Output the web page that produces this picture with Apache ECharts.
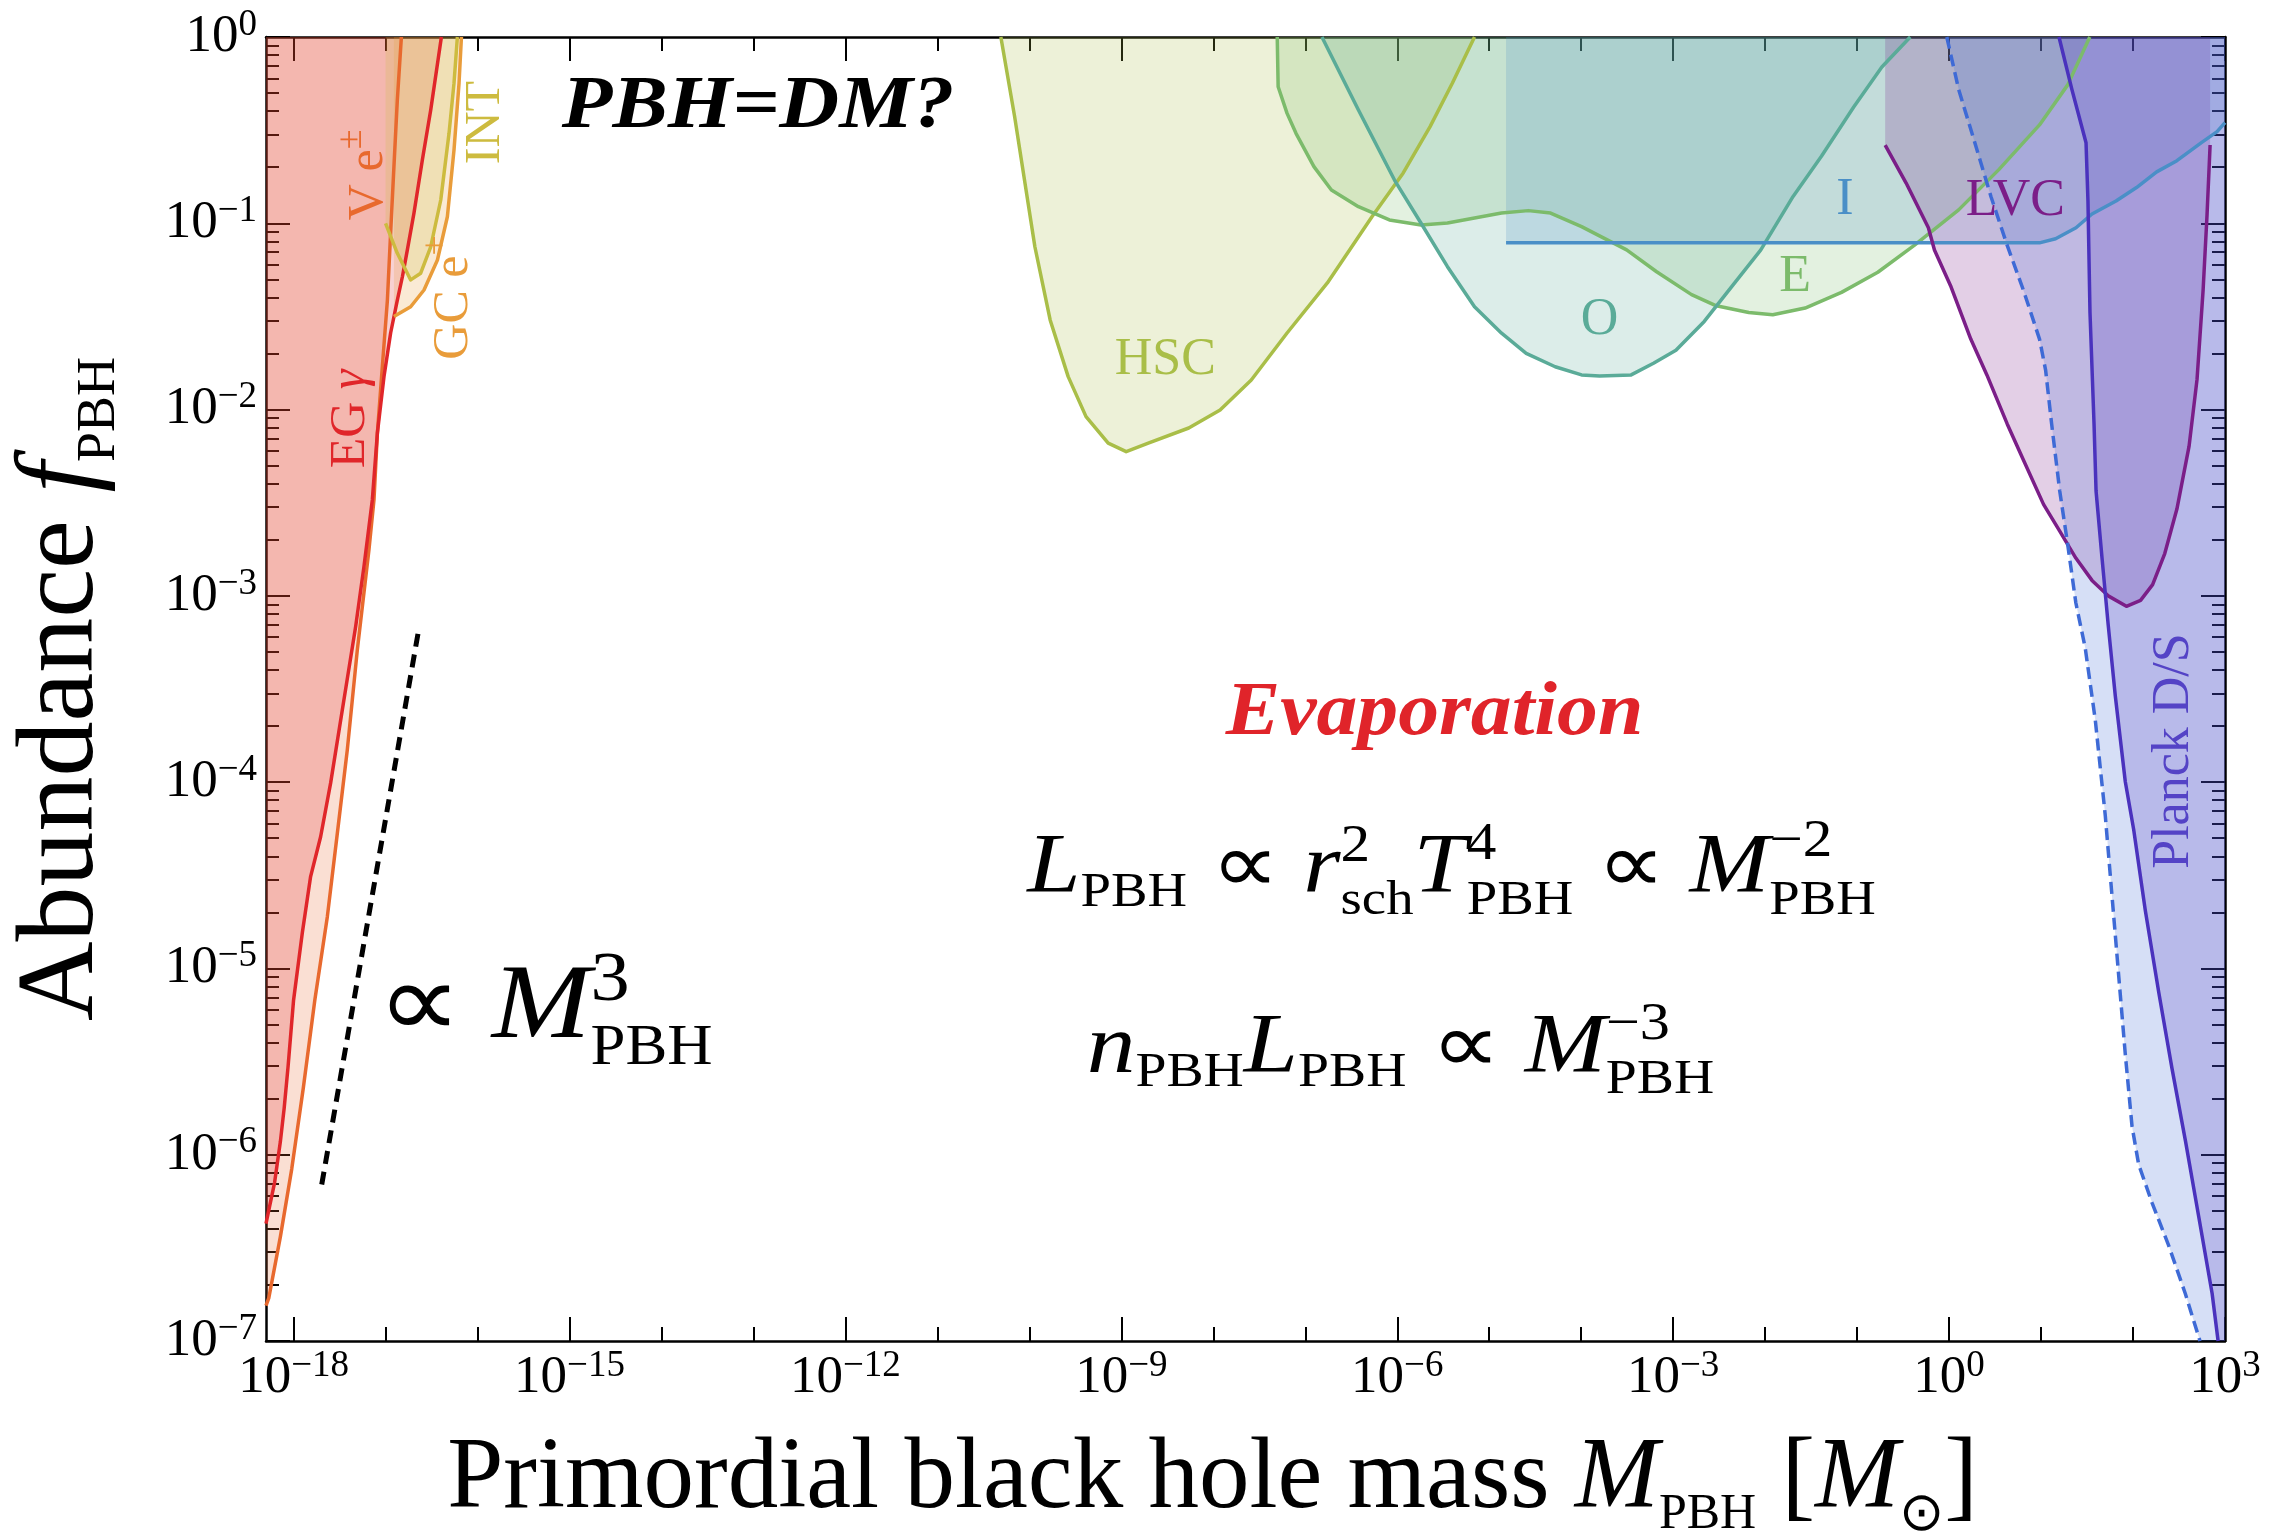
<!DOCTYPE html>
<html>
<head>
<meta charset="utf-8">
<title>PBH abundance constraints</title>
<script src="https://cdn.jsdelivr.net/npm/echarts@6/dist/echarts.min.js"></script>
<style>
  html, body { margin: 0; padding: 0; background: #fff; }
  #chart { width: 2283px; height: 1531px; }
</style>
</head>
<body>
<div id="chart"></div>
<script>
// All constraint boundaries are given as [log10(M_PBH / M_sun), log10(f_PBH)].

// Tick labels (powers of ten)
const xMajorExp = [-18, -15, -12, -9, -6, -3, 0, 3];
const xMajorLabels = ['−18', '−15', '−12', '−9', '−6', '−3', '0', '3'];
const xMinorExp = [-18, -17, -16, -15, -14, -13, -12, -11, -10, -9, -8, -7, -6, -5, -4, -3, -2, -1, 0, 1, 2, 3];
const yMajorExp = [0, -1, -2, -3, -4, -5, -6, -7];
const yMajorLabels = ['0', '−1', '−2', '−3', '−4', '−5', '−6', '−7'];
const yMinorMantissa = [2, 3, 4, 5, 6, 7, 8, 9];

// Evaporation: extragalactic gamma rays
const egGammaLimit = [
  [-16.393, 0], [-16.509, -0.392], [-16.6, -0.66], [-16.691, -0.945], [-16.763, -1.143],
  [-16.817, -1.287], [-16.872, -1.412], [-16.945, -1.589], [-17.017, -1.823], [-17.089, -2.126],
  [-17.144, -2.485], [-17.235, -2.843], [-17.325, -3.165], [-17.453, -3.559], [-17.597, -4.004],
  [-17.706, -4.293], [-17.815, -4.507], [-17.905, -4.809], [-18.0, -5.169], [-18.061, -5.533],
  [-18.102, -5.749], [-18.144, -5.931], [-18.207, -6.151], [-18.269, -6.296], [-18.3, -6.37]
];
// Evaporation: Voyager e±
const voyagerLimit = [
  [-16.828, 0], [-16.872, -0.338], [-16.909, -0.696], [-16.945, -1.052], [-16.98, -1.412],
  [-17.035, -1.77], [-17.089, -2.126], [-17.126, -2.485], [-17.181, -2.754], [-17.307, -3.29],
  [-17.416, -3.827], [-17.524, -4.273], [-17.633, -4.722], [-17.769, -5.169], [-17.894, -5.641],
  [-18.02, -6.076], [-18.144, -6.441], [-18.269, -6.768], [-18.3, -6.81]
];
// Evaporation: Galactic centre e+ (511 keV)
const gcPositronLimit = [
  [-16.909, -1.501], [-16.727, -1.448], [-16.582, -1.358], [-16.436, -1.197],
  [-16.328, -0.965], [-16.256, -0.607], [-16.201, -0.247], [-16.175, 0]
];
// Evaporation: INTEGRAL
const integralLimit = [
  [-17.0, -1.0], [-16.872, -1.161], [-16.727, -1.304], [-16.618, -1.268], [-16.509, -1.126],
  [-16.4, -0.875], [-16.31, -0.517], [-16.256, -0.249], [-16.219, 0]
];
// Microlensing: Subaru HSC
const hscLimit = [
  [-10.31, 0], [-10.16, -0.428], [-9.94, -1.126], [-9.774, -1.519], [-9.578, -1.823],
  [-9.384, -2.038], [-9.143, -2.18], [-8.947, -2.226], [-8.707, -2.18], [-8.267, -2.099],
  [-7.926, -2.002], [-7.587, -1.841], [-7.198, -1.589], [-6.76, -1.32], [-6.275, -0.965],
  [-5.935, -0.73], [-5.643, -0.481], [-5.40, -0.247], [-5.16, 0]
];
// Microlensing: EROS
const erosLimit = [
  [-7.305, 0], [-7.295, -0.267], [-7.198, -0.41], [-7.101, -0.517], [-6.906, -0.696],
  [-6.716, -0.821], [-6.422, -0.911], [-6.085, -0.982], [-5.741, -1.009], [-5.454, -0.998],
  [-5.16, -0.972], [-4.866, -0.945], [-4.575, -0.932], [-4.333, -0.945], [-3.996, -1.018],
  [-3.506, -1.143], [-3.18, -1.26], [-2.80, -1.383], [-2.531, -1.443], [-2.178, -1.479],
  [-1.917, -1.491], [-1.565, -1.455], [-1.17, -1.371], [-0.775, -1.263], [-0.379, -1.119],
  [0.104, -0.928], [0.541, -0.712], [0.983, -0.472], [1.29, -0.257], [1.53, 0]
];
// Microlensing: OGLE
const ogleLimit = [
  [-6.819, 0], [-6.422, -0.392], [-6.03, -0.768], [-5.741, -1.0], [-5.454, -1.233],
  [-5.16, -1.448], [-4.866, -1.59], [-4.598, -1.698], [-4.283, -1.77], [-3.996, -1.814],
  [-3.8, -1.82], [-3.457, -1.814], [-3.214, -1.751], [-2.97, -1.682], [-2.662, -1.527],
  [-2.355, -1.335], [-2.047, -1.143], [-1.696, -0.856], [-1.388, -0.64], [-1.037, -0.376],
  [-0.731, -0.161], [-0.422, 0]
];
// Icarus caustic crossing
const icarusLimit = [
  [-4.817, -1.105], [0.983, -1.105], [1.158, -1.083], [1.38, -1.024], [1.554, -0.95],
  [1.815, -0.88], [2.038, -0.808], [2.257, -0.724], [2.477, -0.664], [2.74, -0.568],
  [2.914, -0.508], [3.0, -0.46]
];
// LIGO/Virgo merger rates
const lvcLimit = [
  [-0.695, -0.58], [-0.467, -0.784], [-0.225, -1.024], [-0.159, -1.143], [0.016, -1.335],
  [0.237, -1.623], [0.411, -1.814], [0.632, -2.077], [0.807, -2.269], [1.027, -2.509],
  [1.203, -2.653], [1.378, -2.797], [1.554, -2.917], [1.73, -3.0], [1.928, -3.056],
  [2.082, -3.024], [2.213, -2.94], [2.345, -2.773], [2.477, -2.534], [2.609, -2.198],
  [2.696, -1.838], [2.762, -1.359], [2.805, -0.952], [2.838, -0.58]
];
// Planck accretion, spherical (dashed) and disk (solid)
const planckSphericalLimit = [
  [-0.025, 0], [0.104, -0.281], [0.28, -0.568], [0.455, -0.856], [0.632, -1.119],
  [0.808, -1.359], [0.984, -1.623], [1.05, -1.79], [1.115, -2.077], [1.203, -2.437],
  [1.29, -2.725], [1.378, -3.037], [1.48, -3.279], [1.589, -3.664], [1.698, -4.178],
  [1.807, -4.82], [1.916, -5.461], [1.989, -5.847], [2.061, -6.052], [2.206, -6.257],
  [2.388, -6.488], [2.568, -6.745], [2.728, -7]
];
const planckDiskLimit = [
  [1.195, 0], [1.335, -0.281], [1.489, -0.568], [1.51, -0.88], [1.532, -1.479],
  [1.576, -2.077], [1.598, -2.437], [1.663, -2.797], [1.73, -3.156], [1.807, -3.536],
  [1.916, -3.998], [2.007, -4.254], [2.134, -4.691], [2.279, -5.127], [2.424, -5.538],
  [2.569, -5.923], [2.715, -6.334], [2.86, -6.745], [2.925, -7]
];
// M^3 scaling guide
const cubicGuide = [[-17.694, -6.16], [-16.636, -3.171]];

// ---------------------------------------------------------------------------
const X_MIN = -18.3, X_MAX = 3, Y_MIN = -7, Y_MAX = 0;
const FONT = '"Liberation Serif", "Times New Roman", serif';
const FILL_ALPHA = 0.21;

const COL = {
  eg: '#e0262a', ve: '#e8692e', gc: '#e99c3a', int: '#cdbb3f',
  hsc: '#a9be48', eros: '#7cbb6b', ogle: '#5aab98', icarus: '#4a8fc7',
  lvc: '#7b1e88', planckS: '#3e6ad6', planckD: '#4a32bd'
};

function rgba(hex, a) {
  const n = parseInt(hex.slice(1), 16);
  return `rgba(${(n >> 16) & 255},${(n >> 8) & 255},${n & 255},${a})`;
}
const last = arr => arr[arr.length - 1];

// Filled regions: each boundary closed against the frame of the plot
const regions = [
  { color: COL.ve, poly: [[X_MIN, Y_MAX], ...voyagerLimit, [X_MIN, last(voyagerLimit)[1]]] },
  { color: COL.eg, poly: [[X_MIN, Y_MAX], ...egGammaLimit, [X_MIN, last(egGammaLimit)[1]]] },
  { color: COL.gc, poly: [...gcPositronLimit, [gcPositronLimit[0][0], Y_MAX]] },
  { color: COL.int, poly: [...integralLimit, [integralLimit[0][0], Y_MAX]] },
  { color: COL.hsc, poly: hscLimit },
  { color: COL.eros, poly: erosLimit },
  { color: COL.ogle, poly: ogleLimit },
  { color: COL.icarus, poly: [[icarusLimit[0][0], Y_MAX], ...icarusLimit, [X_MAX, Y_MAX]] },
  { color: COL.lvc, poly: [[lvcLimit[0][0], Y_MAX], ...lvcLimit, [last(lvcLimit)[0], Y_MAX]] },
  { color: COL.planckS, poly: [...planckSphericalLimit, [X_MAX, Y_MIN], [X_MAX, Y_MAX]] },
  { color: COL.planckD, poly: [...planckDiskLimit, [X_MAX, Y_MIN], [X_MAX, Y_MAX]] }
];

const curves = [
  { data: voyagerLimit, color: COL.ve },
  { data: egGammaLimit, color: COL.eg },
  { data: gcPositronLimit, color: COL.gc },
  { data: integralLimit, color: COL.int },
  { data: hscLimit, color: COL.hsc },
  { data: erosLimit, color: COL.eros },
  { data: ogleLimit, color: COL.ogle },
  { data: icarusLimit, color: COL.icarus },
  { data: lvcLimit, color: COL.lvc },
  { data: planckSphericalLimit, color: COL.planckS, dash: [12, 6] },
  { data: planckDiskLimit, color: COL.planckD },
  { data: cubicGuide, color: '#000', dash: [13, 8], width: 5 }
];

// --- small math typesetter for annotations --------------------------------
const measureCtx = document.createElement('canvas').getContext('2d');
function fnt(size, italic, bold) {
  return (italic ? 'italic ' : '') + (bold ? 'bold ' : '') + size + 'px ' + FONT;
}
function textWidth(t, size, italic, bold) {
  measureCtx.font = fnt(size, italic, bold);
  return measureCtx.measureText(t).width;
}
function typeset(atoms) {
  const parts = [];
  let x = 0;
  atoms.forEach(a => {
    if (a.t) {
      parts.push({ text: a.t, x, dy: 0, size: a.s, i: a.i, b: a.b });
      x += textWidth(a.t, a.s, a.i, a.b);
    }
    let w = 0;
    if (a.sup) {
      parts.push({ text: a.sup, x, dy: a.supDy, size: a.supS });
      w = Math.max(w, textWidth(a.sup, a.supS));
    }
    if (a.sub) {
      parts.push({ text: a.sub, x, dy: a.subDy, size: a.subS });
      w = Math.max(w, textWidth(a.sub, a.subS));
    }
    x += w;
  });
  return { parts, width: x };
}
// distance of the canvas "middle" baseline above the alphabetic baseline
const MID = 0.3375;

const BIG = 84, SUBS = 48, SUPS = 52;
const luminosity = [
  { t: 'L', s: BIG, i: 1, sub: 'PBH', subS: SUBS, subDy: 12 },
  { t: ' ∝ ', s: BIG },
  { t: 'r', s: BIG, i: 1, sup: '2', supS: SUPS, supDy: -33, sub: 'sch', subS: SUBS, subDy: 20 },
  { t: 'T', s: BIG, i: 1, sup: '4', supS: SUPS, supDy: -35, sub: 'PBH', subS: SUBS, subDy: 20 },
  { t: ' ∝ ', s: BIG },
  { t: 'M', s: BIG, i: 1, sup: '−2', supS: SUPS, supDy: -38, sub: 'PBH', subS: SUBS, subDy: 20 }
];
const emissivity = [
  { t: 'n', s: BIG, i: 1, sub: 'PBH', subS: SUBS, subDy: 12 },
  { t: 'L', s: BIG, i: 1, sub: 'PBH', subS: SUBS, subDy: 12 },
  { t: ' ∝ ', s: BIG },
  { t: 'M', s: BIG, i: 1, sup: '−3', supS: SUPS, supDy: -35, sub: 'PBH', subS: SUBS, subDy: 19 }
];
const cubic = [
  { t: '∝ ', s: 106 },
  { t: 'M', s: 106, i: 1, sup: '3', supS: 70, supDy: -40, sub: 'PBH', subS: 56, subDy: 23 }
];

// anchors: horizontal centre, alphabetic baseline (log10 M, log10 f); sx = horizontal stretch
const notes = [
  { at: [-12.95, -0.515], sx: 1.12, color: '#000', atoms: [{ t: 'PBH=DM?', s: 74, i: 1, b: 1 }] },
  { at: [-5.595, -3.773], sx: 1.075, color: '#e0242a', atoms: [{ t: 'Evaporation', s: 76, i: 1, b: 1 }] },
  { at: [-5.41, -4.622], sx: 1.14, color: '#000', atoms: luminosity },
  { at: [-5.965, -5.588], sx: 1.16, color: '#000', atoms: emissivity },
  { at: [-15.269, -5.411], sx: 1.12, color: '#000', atoms: cubic },
  { at: [-8.522, -1.83], color: COL.hsc, atoms: [{ t: 'HSC', s: 52 }] },
  { at: [-3.8, -1.616], color: COL.ogle, atoms: [{ t: 'O', s: 52 }] },
  { at: [-1.675, -1.383], color: COL.eros, atoms: [{ t: 'E', s: 52 }] },
  { at: [-1.134, -0.971], color: COL.icarus, atoms: [{ t: 'I', s: 52 }] },
  { at: [0.72, -0.977], color: COL.lvc, atoms: [{ t: 'LVC', s: 52 }] },
  { at: [2.642, -3.833], rot: 90, color: '#5443c6', atoms: [{ t: 'Planck D/S', s: 52 }] },
  { at: [-17.195, -2.05], rot: 90, color: COL.eg, atoms: [{ t: 'EG ', s: 50 }, { t: 'γ', s: 50, i: 1 }] },
  { at: [-17.0, -0.74], rot: 90, color: COL.ve, atoms: [{ t: 'V e', s: 50, sup: '±', supS: 36, supDy: -22 }] },
  { at: [-16.074, -1.398], rot: 90, color: COL.gc, atoms: [{ t: 'GC e', s: 50, sup: '+', supS: 36, supDy: -22 }] },
  { at: [-15.729, -0.459], rot: 90, color: COL.int, atoms: [{ t: 'INT', s: 50 }] }
];

// --- axes ------------------------------------------------------------------
const tickRich = {
  b: { fontFamily: FONT, fontSize: 53, lineHeight: 53, verticalAlign: 'middle', color: '#000' },
  s: { fontFamily: FONT, fontSize: 37, lineHeight: 37, verticalAlign: 'middle', padding: [0, 0, 24, 0], color: '#000' }
};
const frameLine = { show: true, onZero: false, lineStyle: { color: '#000', width: 2.5 } };
const tickStyle = { color: '#000', width: 2 };

function baseAxis(extra) {
  return Object.assign({
    type: 'value', scale: false, splitLine: { show: false },
    axisLine: { show: false, onZero: false }, axisLabel: { show: false },
    axisTick: { show: false }, nameMoveOverlap: false
  }, extra);
}
function xAxisPair(position, withLabels) {
  const major = baseAxis({
    position, min: X_MIN, max: X_MAX, axisLine: frameLine,
    axisTick: { show: true, inside: true, length: 24, customValues: xMajorExp, lineStyle: tickStyle }
  });
  if (withLabels) {
    major.axisLabel = {
      show: true, customValues: xMajorExp, margin: 11, hideOverlap: false,
      formatter: v => `{b|10}{s|${xMajorLabels[xMajorExp.indexOf(Math.round(v))]}}`,
      rich: tickRich
    };
    major.name = '{r|Primordial black hole mass }{i|M}{s|PBH}{r| [}{i|M}{o|⊙}{r|]}{g|}';
    major.nameLocation = 'middle';
    major.nameGap = 68;
    major.nameTextStyle = {
      fontFamily: FONT, fontSize: 101, color: '#000',
      rich: {
        r: { fontFamily: FONT, fontSize: 101, lineHeight: 142, verticalAlign: 'middle', color: '#000' },
        i: { fontFamily: FONT, fontSize: 101, lineHeight: 142, verticalAlign: 'middle', fontStyle: 'italic', color: '#000' },
        s: { fontFamily: FONT, fontSize: 50, lineHeight: 50, verticalAlign: 'middle', padding: [70, 0, 0, 0], color: '#000' },
        o: { fontFamily: FONT, fontSize: 54, lineHeight: 54, verticalAlign: 'middle', padding: [72, 0, 0, 0], color: '#000' },
        g: { width: 66, lineHeight: 142, verticalAlign: 'middle' }
      }
    };
  }
  const minor = baseAxis({
    position, min: X_MIN, max: X_MAX,
    axisTick: { show: true, inside: true, length: 14, customValues: xMinorExp, lineStyle: tickStyle }
  });
  return [major, minor];
}
const yMinorExp = [];
for (let n = Y_MIN; n < Y_MAX; n++) {
  yMinorMantissa.forEach(k => yMinorExp.push(n + Math.log10(k)));
}
function yAxisPair(position, withLabels) {
  const major = baseAxis({
    position, min: Y_MIN, max: Y_MAX, axisLine: frameLine,
    axisTick: { show: true, inside: true, length: 24, customValues: yMajorExp, lineStyle: tickStyle }
  });
  if (withLabels) {
    major.axisLabel = {
      show: true, customValues: yMajorExp, margin: 9, hideOverlap: false,
      formatter: v => `{b|10}{s|${yMajorLabels[yMajorExp.indexOf(Math.round(v))]}}`,
      rich: tickRich
    };
    major.name = '{r|Abundance }{i|f}{s|PBH}';
    major.nameLocation = 'middle';
    major.nameGap = 148;
    major.nameTextStyle = {
      fontFamily: FONT, fontSize: 110, color: '#000',
      rich: {
        r: { fontFamily: FONT, fontSize: 110, lineHeight: 110, color: '#000' },
        i: { fontFamily: FONT, fontSize: 110, lineHeight: 110, fontStyle: 'italic', color: '#000' },
        s: { fontFamily: FONT, fontSize: 54, lineHeight: 54, padding: [74, 0, 0, 0], color: '#000' }
      }
    };
  }
  const minor = baseAxis({
    position, min: Y_MIN, max: Y_MAX,
    axisTick: { show: true, inside: true, length: 13, customValues: yMinorExp, lineStyle: tickStyle }
  });
  return [major, minor];
}

// --- series ----------------------------------------------------------------
const series = [];
regions.forEach(r => {
  series.push({
    type: 'custom', silent: true, z: 1, clip: true,
    xAxisIndex: 0, yAxisIndex: 0,
    data: [r.poly[0]],
    renderItem: (params, api) => ({
      type: 'polygon',
      shape: { points: r.poly.map(p => api.coord(p)) },
      style: { fill: rgba(r.color, FILL_ALPHA) }
    })
  });
});
curves.forEach(c => {
  series.push({
    type: 'line', silent: true, z: 3, xAxisIndex: 0, yAxisIndex: 0,
    data: c.data, symbol: 'none', showSymbol: false, smooth: false,
    lineStyle: { color: c.color, width: c.width || 3.5, type: c.dash || 'solid', cap: 'butt', join: 'round' }
  });
});
series.push({
  type: 'custom', silent: true, z: 6, clip: false,
  xAxisIndex: 0, yAxisIndex: 0,
  data: notes.map(n => n.at),
  renderItem: (params, api) => {
    const n = notes[params.dataIndex];
    const p = api.coord(n.at);
    const lay = typeset(n.atoms);
    return {
      type: 'group', x: p[0], y: p[1], rotation: (n.rot || 0) * Math.PI / 180,
      scaleX: n.sx || 1,
      children: lay.parts.map(q => ({
        type: 'text', x: q.x - lay.width / 2, y: q.dy - MID * q.size,
        style: {
          text: q.text, font: fnt(q.size, q.i, q.b), fill: n.color,
          align: 'left', verticalAlign: 'middle'
        }
      }))
    };
  }
});

const chart = echarts.init(document.getElementById('chart'), null, { renderer: 'canvas' });
chart.setOption({
  animation: false,
  backgroundColor: '#fff',
  grid: { left: 266, top: 37, width: 1959, height: 1304, containLabel: false, outerBoundsMode: 'none' },
  xAxis: [...xAxisPair('bottom', true), ...xAxisPair('top', false)],
  yAxis: [...yAxisPair('left', true), ...yAxisPair('right', false)],
  series
});
</script>
</body>
</html>
